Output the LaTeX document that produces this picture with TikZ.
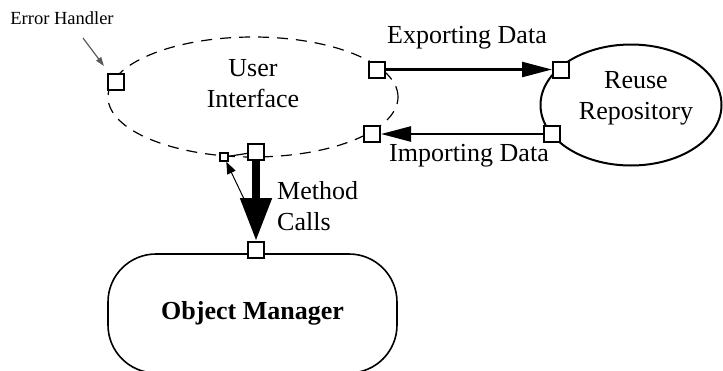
\documentclass[tikz,border=0pt]{standalone}
\usepackage{fontspec}
\setmainfont{Liberation Serif}
\usetikzlibrary{arrows.meta,shapes.geometric}

\begin{document}
\begin{tikzpicture}[x=1pt,y=-1pt,
  lbl/.style={font=\fontsize{26}{31}\selectfont, align=center, inner sep=0pt},
  port/.style={draw, fill=white, line width=2pt, minimum size=16pt, inner sep=0pt},
  smallport/.style={port, line width=1.6pt, minimum size=8pt},
  flow/.style={line width=2.4pt, -{Triangle[length=30pt,width=15pt]}},
  component/.style={draw, ellipse, inner sep=0pt},
]
\useasboundingbox (0,0) rectangle (723,370);

% components
\node[component, line width=1.2pt, dash pattern=on 11pt off 8pt,
      minimum width=290pt, minimum height=120pt] (ui) at (253,97) {};
\node[component, line width=2pt,
      minimum width=181pt, minimum height=121pt] (repo) at (631,105) {};
\node[draw, rounded corners=48pt, line width=1.6pt, inner sep=0pt,
      minimum width=289pt, minimum height=119pt,
      font=\fontsize{26}{31}\selectfont\bfseries] (om) at (252.5,313.5) {Object Manager};

% component labels
\node[lbl] (uil) at (253,84) {User\\Interface};
\node[lbl] (repol) at (636,98) {Reuse\\Repository};

% ports
\node[smallport] (err) at (224,157) {};
\node[port] (uicall) at (256,152) {};
\draw[line width=1.2pt] (err) -- (uicall);
\node[port] (eh) at (116,82) {};
\node[port] (uiout) at (377,69.5) {};
\node[port] (uiin) at (372,134) {};
\node[port] (repoin) at (561,69.5) {};
\node[port] (repoout) at (552,134) {};
\node[port] (omin) at (256,250) {};

% data flows
\draw[flow] (uiout.east) -- (repoin.west);
\draw[flow] (repoout.west) -- (uiin.east);
\node[lbl, anchor=base] (expl) at (467,43) {Exporting Data};
\node[lbl, anchor=base] (impl) at (469,161) {Importing Data};

% method calls
\draw[line width=8pt, -{Triangle[length=43pt,width=30pt]}] (uicall.south) -- (omin.north);
\node[lbl, align=left, anchor=west] (mcl) at (277,206) {Method\\Calls};

% error path
\coordinate (errtail) at (245,201);
\draw[line width=1pt, -{Triangle[length=12pt,width=9pt]}] (errtail) -- (err);

% error handler callout
\node[font=\fontsize{18.5}{22}\selectfont, inner sep=0pt] (ehl) at (62,18) {Error Handler};
\coordinate (ehtail) at (83,38);
\coordinate (ehhead) at (104,66);
\draw[line width=1.2pt, color=black!65, -{Triangle[length=9pt,width=6pt]}] (ehtail) -- (ehhead);
\end{tikzpicture}
\end{document}
